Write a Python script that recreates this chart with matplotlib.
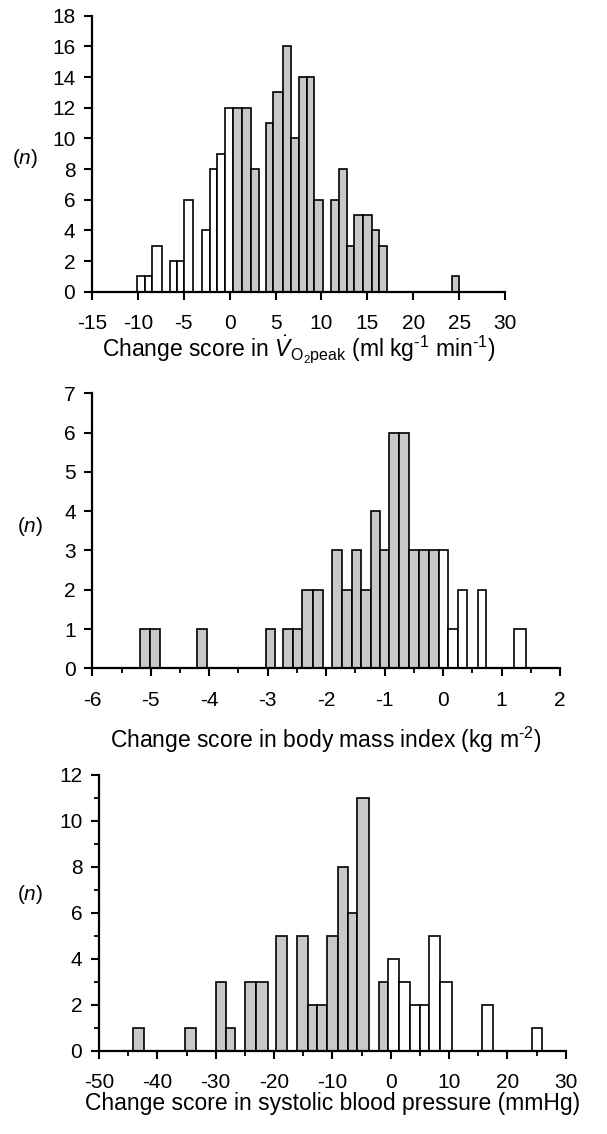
import matplotlib
matplotlib.use('Agg')
import matplotlib.pyplot as plt
from matplotlib.ticker import MultipleLocator

plt.rcParams['font.family'] = ['Liberation Sans', 'DejaVu Sans']
plt.rcParams['mathtext.fontset'] = 'custom'
plt.rcParams['mathtext.rm'] = 'Liberation Sans'
plt.rcParams['mathtext.it'] = 'Liberation Sans:italic'
plt.rcParams['axes.unicode_minus'] = False

# change score in VO2peak
vo2_lo = [-10.05, -9.25, -8.45, -6.53, -5.73, -4.93, -3.0, -2.16, -1.33, -0.53,
          0.38, 1.36, 2.31, 3.91, 4.75, 5.76, 6.67, 7.51, 8.38, 9.22,
          11.0, 11.87, 12.75, 13.55, 14.49, 15.47, 16.3, 24.2]
vo2_hi = [-9.25, -8.45, -7.33, -5.73, -4.93, -3.98, -2.16, -1.33, -0.53, 0.38,
          1.36, 2.31, 3.18, 4.75, 5.76, 6.67, 7.51, 8.38, 9.22, 10.2,
          11.87, 12.75, 13.55, 14.49, 15.47, 16.3, 17.15, 25.04]
vo2_n = [1, 1, 3, 2, 2, 6, 4, 8, 9, 12,
         12, 12, 8, 11, 13, 16, 10, 14, 14, 6,
         6, 8, 3, 5, 5, 4, 3, 1]

# change score in body mass index
bmi_lo = [-5.18, -5.02, -4.21, -3.03, -2.73, -2.56, -2.41, -2.22, -1.90, -1.73,
          -1.56, -1.40, -1.23, -1.08, -0.93, -0.76, -0.59, -0.41, -0.24, -0.07,
          0.08, 0.25, 0.60, 1.22]
bmi_hi = [-5.02, -4.84, -4.03, -2.87, -2.56, -2.41, -2.22, -2.06, -1.73, -1.56,
          -1.40, -1.23, -1.08, -0.93, -0.76, -0.59, -0.41, -0.24, -0.07, 0.08,
          0.25, 0.41, 0.74, 1.41]
bmi_n = [1, 1, 1, 1, 1, 1, 2, 2, 3, 2,
         3, 2, 4, 3, 6, 6, 3, 3, 3, 3,
         1, 2, 2, 1]

# change score in systolic blood pressure
sbp_lo = [-44.2, -35.3, -30.0, -28.2, -24.9, -23.1, -19.7, -16.0, -14.1, -12.6,
          -10.9, -9.0, -7.4, -5.7, -1.94, -0.4, 1.49, 3.31, 5.03, 6.63,
          8.46, 15.6, 24.2]
sbp_hi = [-42.3, -33.4, -28.2, -26.7, -23.1, -21.1, -17.8, -14.1, -12.6, -10.9,
          -9.0, -7.4, -5.7, -3.7, -0.4, 1.49, 3.31, 5.03, 6.63, 8.46,
          10.46, 17.5, 26.0]
sbp_n = [1, 1, 3, 1, 3, 3, 5, 5, 2, 2,
         5, 8, 6, 11, 3, 4, 3, 2, 2, 5,
         3, 2, 1]

GRAY = '#c8c8c8'
FS = 15
LFS = 16.5
W, H = 607, 1134
fig = plt.figure(figsize=(W / 100, H / 100), dpi=100)


def make_axes(left, right, top, bottom):
    return fig.add_axes([left / W, 1 - bottom / H, (right - left) / W, (bottom - top) / H])


def draw(ax, lo, hi, n, gray_if_positive):
    centers = [(a + b) / 2 for a, b in zip(lo, hi)]
    widths = [b - a for a, b in zip(lo, hi)]
    colors = [GRAY if ((c > 0) == gray_if_positive) else 'white' for c in centers]
    ax.bar(lo, n, width=widths, align='edge', color=colors, edgecolor='black',
           linewidth=1.2, zorder=2)
    for s in ['top', 'right']:
        ax.spines[s].set_visible(False)
    for s in ['left', 'bottom']:
        ax.spines[s].set_linewidth(1.6)
        ax.spines[s].set_zorder(3)
    ax.tick_params(which='major', direction='out', length=6, width=1.5, labelsize=FS)
    ax.tick_params(which='minor', direction='out', length=3.5, width=1.3)
    ax.tick_params(axis='x', which='major', pad=10)
    ax.tick_params(axis='y', which='major', pad=6)


ax1 = make_axes(92, 505, 15.7, 291.7)
draw(ax1, vo2_lo, vo2_hi, vo2_n, True)
ax1.set_xlim(-15, 30)
ax1.set_ylim(0, 18)
ax1.xaxis.set_major_locator(MultipleLocator(5))
ax1.yaxis.set_major_locator(MultipleLocator(2))
ax1.set_xlabel(r'Change score in $\dot{V}_{\mathrm{O_2peak}}$ (ml kg$^{\text{-1}}$ min$^{\text{-1}}$)',
               fontsize=LFS, labelpad=0)
fig.text(25 / W, 1 - 158 / H, r'($n$)', fontsize=FS, ha='center', va='center')

ax2 = make_axes(92.3, 560, 393.3, 668.3)
draw(ax2, bmi_lo, bmi_hi, bmi_n, False)
ax2.set_xlim(-6, 2)
ax2.set_ylim(0, 7)
ax2.xaxis.set_major_locator(MultipleLocator(1))
ax2.xaxis.set_minor_locator(MultipleLocator(0.5))
ax2.yaxis.set_major_locator(MultipleLocator(1))
ax2.set_xlabel(r'Change score in body mass index (kg m$^{\text{-2}}$)', fontsize=LFS, labelpad=11)
fig.text(30 / W, 1 - 527 / H, r'($n$)', fontsize=FS, ha='center', va='center')

ax3 = make_axes(99, 565.7, 775, 1050.7)
draw(ax3, sbp_lo, sbp_hi, sbp_n, False)
ax3.set_xlim(-50, 30)
ax3.set_ylim(0, 12)
ax3.xaxis.set_major_locator(MultipleLocator(10))
ax3.xaxis.set_minor_locator(MultipleLocator(5))
ax3.yaxis.set_major_locator(MultipleLocator(2))
ax3.yaxis.set_minor_locator(MultipleLocator(1))
ax3.set_xlabel('Change score in systolic blood pressure (mmHg)', fontsize=LFS, labelpad=0)
fig.text(30 / W, 1 - 894 / H, r'($n$)', fontsize=FS, ha='center', va='center')

fig.savefig('out.png', dpi=100)
